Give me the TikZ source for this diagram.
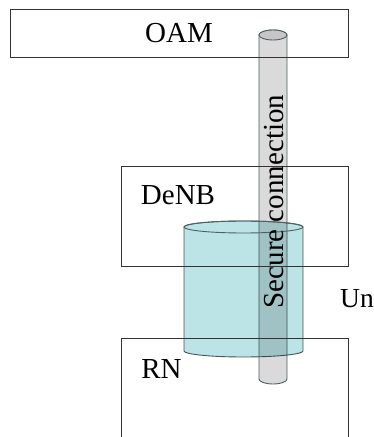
\documentclass[tikz,border=0pt]{standalone}
\usepackage{fontspec}
\setmainfont{Liberation Serif}
\definecolor{boxline}{HTML}{333333}
\definecolor{pipegray}{HTML}{DADADA}
\definecolor{pipetop}{HTML}{C6C6C6}
\definecolor{tubecyan}{HTML}{BCE3E6}
\definecolor{tubeline}{HTML}{4F5F62}
\begin{document}
\begin{tikzpicture}[x=1pt,y=1pt,
  boxframe/.style={draw=boxline, line width=0.9pt},
  lbl/.style={inner sep=0pt, font=\fontsize{29}{34}\selectfont},
  pipeline/.style={draw=tubeline, line width=0.9pt}]
\useasboundingbox (0,0) rectangle (374,437);
\fill[white] (0,0) rectangle (374,437);
% small pipe (secure connection)
\path[pipeline, fill=pipegray] (259,402) -- (259,58) arc[start angle=180,end angle=360,x radius=14,y radius=5] -- (287,402) arc[start angle=0,end angle=180,x radius=14,y radius=5] -- cycle;
\path[pipeline, fill=pipetop] (273,402) ellipse[x radius=14,y radius=5];
% big cylinder (Un)
\begin{scope}[blend mode=multiply]
\path[pipeline, fill=tubecyan] (184,210) -- (184,86) arc[start angle=180,end angle=360,x radius=59.5,y radius=6] -- (303,210) arc[start angle=0,end angle=180,x radius=59.5,y radius=6] -- cycle;
\end{scope}
\path[pipeline] (243.5,210) ellipse[x radius=59.5,y radius=6];
% boxes
\draw[boxframe] (10,428) rectangle (348,380);
\draw[boxframe] (121,271) rectangle (348,171);
\draw[boxframe] (121,99) rectangle (348,-13);
% labels
\node[lbl, anchor=base] (oam) at (179,394) {OAM};
\node[lbl, anchor=base] (denb) at (178,232) {DeNB};
\node[lbl, anchor=base] (rn) at (161.5,58) {RN};
\node[lbl, anchor=base west, font=\fontsize{27.5}{32}\selectfont] (un) at (340,129) {Un};
\node[lbl, anchor=base, rotate=90] (sec) at (283,235.5) {Secure connection};
\end{tikzpicture}
\end{document}
